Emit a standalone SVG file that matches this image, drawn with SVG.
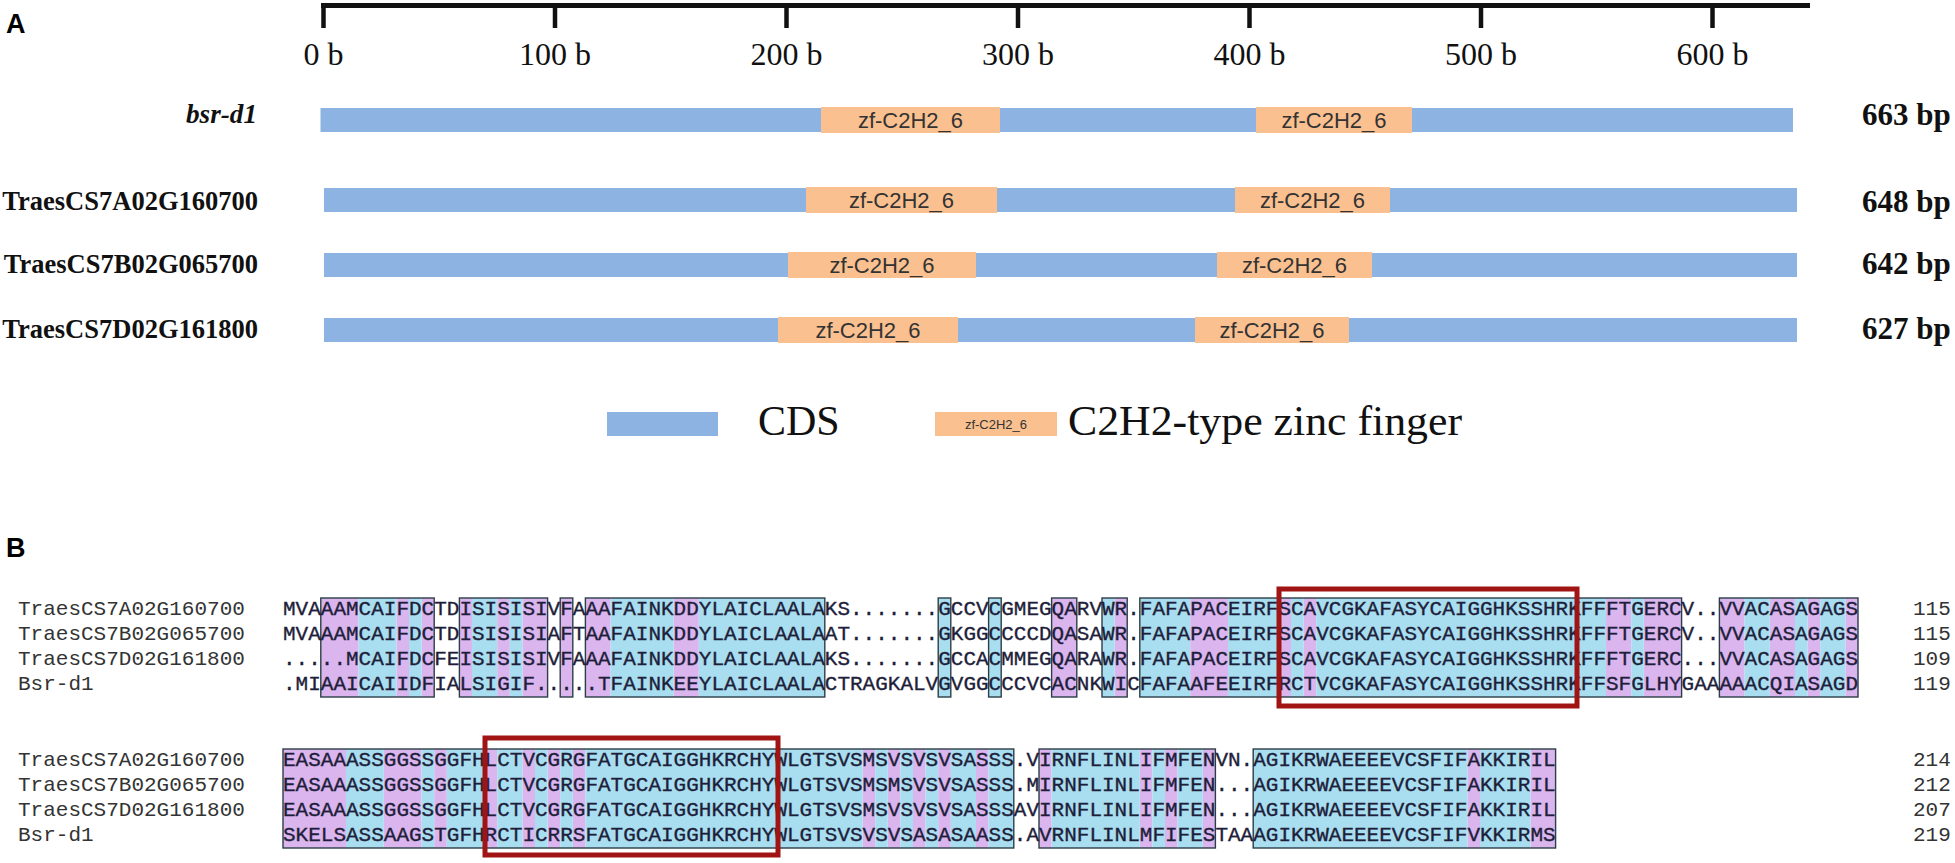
<svg xmlns="http://www.w3.org/2000/svg" width="1955" height="863" viewBox="0 0 1955 863">
<style>
.seq{font-family:"Liberation Mono","Courier New",monospace;font-size:21px;fill:#1e1e3a;stroke:#1e1e3a;stroke-width:0.35}
.lab{font-family:"Liberation Mono","Courier New",monospace;font-size:21px;fill:#333}
.bl{fill:#a8def0}
.pk{fill:#dab5ee}
.ol{fill:none;stroke:#2c3e46;stroke-width:1.4}
.red{fill:none;stroke:#a01414;stroke-width:5}
.cds{fill:#8db3e2}
.zf{fill:#fac090}
.zft{font-family:"Liberation Sans",Arial,sans-serif;font-size:22px;fill:#333;text-anchor:middle}
.gn{font-family:"Liberation Serif","Times New Roman",serif;font-weight:bold;font-size:26.5px;fill:#111;text-anchor:end}
.bp{font-family:"Liberation Serif","Times New Roman",serif;font-weight:bold;font-size:31px;fill:#111}
.tk{font-family:"Liberation Serif","Times New Roman",serif;font-size:32px;fill:#111;text-anchor:middle}
.pl{font-family:"Liberation Sans",Arial,sans-serif;font-weight:bold;font-size:27px;fill:#000}
.lg{font-family:"Liberation Serif","Times New Roman",serif;font-size:42px;fill:#111}
</style>
<rect width="1955" height="863" fill="#fff"/>
<text class="pl" x="6" y="33">A</text>
<g id="axis">
<line x1="321" y1="5.5" x2="1810" y2="5.5" stroke="#111" stroke-width="5"/>
<g stroke="#111" stroke-width="4.5">
<line x1="323.5" y1="5" x2="323.5" y2="28"/>
<line x1="555" y1="5" x2="555" y2="28"/>
<line x1="786.5" y1="5" x2="786.5" y2="28"/>
<line x1="1018" y1="5" x2="1018" y2="28"/>
<line x1="1249.5" y1="5" x2="1249.5" y2="28"/>
<line x1="1481" y1="5" x2="1481" y2="28"/>
<line x1="1712.5" y1="5" x2="1712.5" y2="28"/>
</g>
<text class="tk" x="323.5" y="65">0 b</text>
<text class="tk" x="555" y="65">100 b</text>
<text class="tk" x="786.5" y="65">200 b</text>
<text class="tk" x="1018" y="65">300 b</text>
<text class="tk" x="1249.5" y="65">400 b</text>
<text class="tk" x="1481" y="65">500 b</text>
<text class="tk" x="1712.5" y="65">600 b</text>
</g>
<g id="gene-bsr-d1">
<text class="gn" x="186" y="123" font-style="italic" style="text-anchor:start" textLength="71" lengthAdjust="spacingAndGlyphs">bsr-d1</text>
<rect class="cds" x="320.5" y="108" width="1472.5" height="24"/>
<rect class="zf" x="821" y="107" width="179" height="26"/>
<rect class="zf" x="1256" y="107" width="156" height="26"/>
<text class="zft" x="910.5" y="128">zf-C2H2_6</text>
<text class="zft" x="1334" y="128">zf-C2H2_6</text>
<text class="bp" x="1862" y="125">663 bp</text>
</g>
<g id="gene-7A">
<text class="gn" x="258" y="210">TraesCS7A02G160700</text>
<rect class="cds" x="324" y="188" width="1473" height="24"/>
<rect class="zf" x="806" y="187" width="191" height="26"/>
<rect class="zf" x="1235" y="187" width="155" height="26"/>
<text class="zft" x="901.5" y="208">zf-C2H2_6</text>
<text class="zft" x="1312.5" y="208">zf-C2H2_6</text>
<text class="bp" x="1862" y="212">648 bp</text>
</g>
<g id="gene-7B">
<text class="gn" x="258" y="273">TraesCS7B02G065700</text>
<rect class="cds" x="324" y="253" width="1473" height="24"/>
<rect class="zf" x="788" y="252" width="188" height="26"/>
<rect class="zf" x="1217" y="252" width="155" height="26"/>
<text class="zft" x="882" y="273">zf-C2H2_6</text>
<text class="zft" x="1294.5" y="273">zf-C2H2_6</text>
<text class="bp" x="1862" y="274">642 bp</text>
</g>
<g id="gene-7D">
<text class="gn" x="258" y="338">TraesCS7D02G161800</text>
<rect class="cds" x="324" y="318" width="1473" height="24"/>
<rect class="zf" x="778" y="317" width="180" height="26"/>
<rect class="zf" x="1195" y="317" width="154" height="26"/>
<text class="zft" x="868" y="338">zf-C2H2_6</text>
<text class="zft" x="1272" y="338">zf-C2H2_6</text>
<text class="bp" x="1862" y="339">627 bp</text>
</g>
<g id="legend">
<rect class="cds" x="607" y="412" width="111" height="24"/>
<text class="lg" x="758" y="435">CDS</text>
<rect class="zf" x="935" y="412" width="122" height="24"/>
<text class="zft" x="996" y="429" style="font-size:13px">zf-C2H2_6</text>
<text class="lg" x="1068" y="435" textLength="394" lengthAdjust="spacingAndGlyphs">C2H2-type zinc finger</text>
</g>
<text class="pl" x="6" y="557">B</text>
<g id="block1">
<g class="pk">
<rect x="320.8" y="598" width="37.8" height="99"/>
<rect x="396.4" y="598" width="12.6" height="99"/>
<rect x="421.6" y="598" width="12.6" height="99"/>
<rect x="459.4" y="598" width="12.6" height="99"/>
<rect x="497.2" y="598" width="12.6" height="99"/>
<rect x="522.4" y="598" width="25.2" height="99"/>
<rect x="560.2" y="598" width="12.6" height="99"/>
<rect x="585.4" y="598" width="25.2" height="99"/>
<rect x="673.6" y="598" width="25.2" height="99"/>
<rect x="1051.6" y="598" width="25.2" height="99"/>
<rect x="1114.6" y="598" width="12.6" height="99"/>
<rect x="1190.2" y="598" width="37.8" height="99"/>
<rect x="1278.4" y="598" width="12.6" height="99"/>
<rect x="1303.6" y="598" width="12.6" height="99"/>
<rect x="1606" y="598" width="25.2" height="99"/>
<rect x="1643.8" y="598" width="37.8" height="99"/>
<rect x="1719.4" y="598" width="25.2" height="99"/>
<rect x="1769.8" y="598" width="25.2" height="99"/>
<rect x="1807.6" y="598" width="12.6" height="99"/>
<rect x="1845.4" y="598" width="12.6" height="99"/>
</g>
<g class="bl">
<rect x="358.6" y="598" width="37.8" height="99"/>
<rect x="409" y="598" width="12.6" height="99"/>
<rect x="472" y="598" width="25.2" height="99"/>
<rect x="509.8" y="598" width="12.6" height="99"/>
<rect x="610.6" y="598" width="63" height="99"/>
<rect x="698.8" y="598" width="126" height="99"/>
<rect x="938.2" y="598" width="12.6" height="99"/>
<rect x="988.6" y="598" width="12.6" height="99"/>
<rect x="1102" y="598" width="12.6" height="99"/>
<rect x="1139.8" y="598" width="50.4" height="99"/>
<rect x="1228" y="598" width="50.4" height="99"/>
<rect x="1291" y="598" width="12.6" height="99"/>
<rect x="1316.2" y="598" width="289.8" height="99"/>
<rect x="1631.2" y="598" width="12.6" height="99"/>
<rect x="1744.6" y="598" width="25.2" height="99"/>
<rect x="1795" y="598" width="12.6" height="99"/>
<rect x="1820.2" y="598" width="25.2" height="99"/>
</g>
<g class="ol">
<rect x="320.8" y="598" width="113.4" height="99"/>
<rect x="459.4" y="598" width="88.2" height="99"/>
<rect x="560.2" y="598" width="12.6" height="99"/>
<rect x="585.4" y="598" width="239.4" height="99"/>
<rect x="938.2" y="598" width="12.6" height="99"/>
<rect x="988.6" y="598" width="12.6" height="99"/>
<rect x="1051.6" y="598" width="25.2" height="99"/>
<rect x="1102" y="598" width="25.2" height="99"/>
<rect x="1139.8" y="598" width="541.8" height="99"/>
<rect x="1719.4" y="598" width="138.6" height="99"/>
</g>
<text class="lab" x="18" y="615">TraesCS7A02G160700</text>
<text class="lab" x="18" y="640">TraesCS7B02G065700</text>
<text class="lab" x="18" y="665">TraesCS7D02G161800</text>
<text class="lab" x="18" y="690">Bsr-d1</text>
<text class="seq" x="283" y="615" textLength="1575" lengthAdjust="spacingAndGlyphs">MVAAAMCAIFDCTDISISISIVFAAAFAINKDDYLAICLAALAKS.......GCCVCGMEGQARVWR.FAFAPACEIRFSCAVCGKAFASYCAIGGHKSSHRKFFFTGERCV..VVACASAGAGS</text>
<text class="seq" x="283" y="640" textLength="1575" lengthAdjust="spacingAndGlyphs">MVAAAMCAIFDCTDISISISIAFTAAFAINKDDYLAICLAALAAT.......GKGGCCCCDQASAWR.FAFAPACEIRFSCAVCGKAFASYCAIGGHKSSHRKFFFTGERCV..VVACASAGAGS</text>
<text class="seq" x="283" y="665" textLength="1575" lengthAdjust="spacingAndGlyphs">.....MCAIFDCFEISISISIVFAAAFAINKDDYLAICLAALAKS.......GCCACMMEGQARAWR.FAFAPACEIRFSCAVCGKAFASYCAIGGHKSSHRKFFFTGERC...VVACASAGAGS</text>
<text class="seq" x="283" y="690" textLength="1575" lengthAdjust="spacingAndGlyphs">.MIAAICAIIDFIALSIGIF.....TFAINKEEYLAICLAALACTRAGKALVGVGGCCCVCACNKWICFAFAAFEEIRFRCTVCGKAFASYCAIGGHKSSHRKFFSFGLHYGAAAAACQIASAGD</text>
<text class="lab" x="1913" y="615">115</text>
<text class="lab" x="1913" y="640">115</text>
<text class="lab" x="1913" y="665">109</text>
<text class="lab" x="1913" y="690">119</text>
<rect class="red" x="1279" y="589" width="298" height="117"/>
</g>
<g id="block2">
<g class="pk">
<rect x="283" y="749" width="63" height="99"/>
<rect x="383.8" y="749" width="37.8" height="99"/>
<rect x="434.2" y="749" width="12.6" height="99"/>
<rect x="484.6" y="749" width="12.6" height="99"/>
<rect x="522.4" y="749" width="12.6" height="99"/>
<rect x="547.6" y="749" width="12.6" height="99"/>
<rect x="572.8" y="749" width="12.6" height="99"/>
<rect x="862.6" y="749" width="12.6" height="99"/>
<rect x="887.8" y="749" width="12.6" height="99"/>
<rect x="913" y="749" width="12.6" height="99"/>
<rect x="938.2" y="749" width="12.6" height="99"/>
<rect x="976" y="749" width="12.6" height="99"/>
<rect x="1039" y="749" width="12.6" height="99"/>
<rect x="1139.8" y="749" width="12.6" height="99"/>
<rect x="1165" y="749" width="12.6" height="99"/>
<rect x="1202.8" y="749" width="12.6" height="99"/>
<rect x="1467.4" y="749" width="12.6" height="99"/>
<rect x="1530.4" y="749" width="25.2" height="99"/>
</g>
<g class="bl">
<rect x="346" y="749" width="37.8" height="99"/>
<rect x="421.6" y="749" width="12.6" height="99"/>
<rect x="446.8" y="749" width="37.8" height="99"/>
<rect x="497.2" y="749" width="25.2" height="99"/>
<rect x="535" y="749" width="12.6" height="99"/>
<rect x="560.2" y="749" width="12.6" height="99"/>
<rect x="585.4" y="749" width="277.2" height="99"/>
<rect x="875.2" y="749" width="12.6" height="99"/>
<rect x="900.4" y="749" width="12.6" height="99"/>
<rect x="925.6" y="749" width="12.6" height="99"/>
<rect x="950.8" y="749" width="25.2" height="99"/>
<rect x="988.6" y="749" width="25.2" height="99"/>
<rect x="1051.6" y="749" width="88.2" height="99"/>
<rect x="1152.4" y="749" width="12.6" height="99"/>
<rect x="1177.6" y="749" width="25.2" height="99"/>
<rect x="1253.2" y="749" width="214.2" height="99"/>
<rect x="1480" y="749" width="50.4" height="99"/>
</g>
<g class="ol">
<rect x="283" y="749" width="730.8" height="99"/>
<rect x="1039" y="749" width="176.4" height="99"/>
<rect x="1253.2" y="749" width="302.4" height="99"/>
</g>
<text class="lab" x="18" y="766">TraesCS7A02G160700</text>
<text class="lab" x="18" y="791">TraesCS7B02G065700</text>
<text class="lab" x="18" y="816">TraesCS7D02G161800</text>
<text class="lab" x="18" y="841">Bsr-d1</text>
<text class="seq" x="283" y="766" textLength="1272.6" lengthAdjust="spacingAndGlyphs">EASAAASSGGSSGGFHLCTVCGRGFATGCAIGGHKRCHYWLGTSVSMSVSVSVSASSS.VIRNFLINLIFMFENVN.AGIKRWAEEEEVCSFIFAKKIRIL</text>
<text class="seq" x="283" y="791" textLength="1272.6" lengthAdjust="spacingAndGlyphs">EASAAASSGGSSGGFHLCTVCGRGFATGCAIGGHKRCHYWLGTSVSMSMSVSVSASSS.MIRNFLINLIFMFEN...AGIKRWAEEEEVCSFIFAKKIRIL</text>
<text class="seq" x="283" y="816" textLength="1272.6" lengthAdjust="spacingAndGlyphs">EASAAASSGGSSGGFHLCTVCGRGFATGCAIGGHKRCHYWLGTSVSMSVSVSVSASSSAVIRNFLINLIFMFEN...AGIKRWAEEEEVCSFIFAKKIRIL</text>
<text class="seq" x="283" y="841" textLength="1272.6" lengthAdjust="spacingAndGlyphs">SKELSASSAAGSTGFHRCTICRRSFATGCAIGGHKRCHYWLGTSVSVSVSASASAASS.AVRNFLINLMFIFESTAAAGIKRWAEEEEVCSFIFVKKIRMS</text>
<text class="lab" x="1913" y="766">214</text>
<text class="lab" x="1913" y="791">212</text>
<text class="lab" x="1913" y="816">207</text>
<text class="lab" x="1913" y="841">219</text>
<rect class="red" x="485" y="738" width="293" height="117"/>
</g>
</svg>
